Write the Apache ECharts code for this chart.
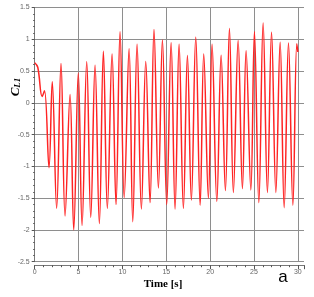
<!DOCTYPE html>
<html>
<head>
<meta charset="utf-8">
<script src="https://cdn.jsdelivr.net/npm/echarts@6/dist/echarts.min.js"></script>
<style>html,body{margin:0;padding:0;background:#fff;}#c{width:314px;height:297px;}</style>
</head>
<body>
<div id="c"></div>
<script>
var times = [0, 0.35, 0.85, 1.12, 1.63, 2.0, 2.5, 3.0, 3.46, 4.03, 4.45, 4.97, 5.4, 5.93, 6.39, 6.88, 7.37, 7.83, 8.28, 8.82, 9.27, 9.73, 10.2, 10.76, 11.18, 11.67, 12.16, 12.66, 13.15, 13.6, 14.1, 14.56, 15.05, 15.55, 16.0, 16.46, 16.95, 17.41, 17.86, 18.36, 18.86, 19.27, 19.8, 20.22, 20.76, 21.25, 21.74, 22.2, 22.65, 23.19, 23.68, 24.1, 24.64, 25.05, 25.55, 26.04, 26.53, 27.0, 27.49, 27.98, 28.44, 28.93, 29.43, 29.88, 30.0];
var cl1 = [0.63, 0.56, 0.1, 0.19, -1.02, 0.33, -1.66, 0.62, -1.78, 0.13, -2.0, 0.47, -1.93, 0.645, -1.8, 0.59, -1.9, 0.81, -1.66, 0.77, -1.6, 1.12, -1.49, 0.85, -1.87, 0.92, -1.67, 0.65, -1.57, 1.155, -1.34, 0.99, -1.6, 0.945, -1.67, 0.92, -1.66, 0.745, -1.53, 1.03, -1.61, 0.77, -1.5, 0.92, -1.55, 0.75, -1.38, 1.17, -1.41, 0.98, -1.35, 0.82, -1.37, 1.12, -1.57, 1.255, -1.41, 1.11, -1.41, 0.955, -1.65, 0.94, -1.61, 0.93, 0.8];
var xTicks = [0, 5, 10, 15, 20, 25, 30];
var yTicks = [-2.5, -2, -1.5, -1, -0.5, 0, 0.5, 1, 1.5];
var xTitle = 'Time [s]';
var panelLabel = 'a';

var data = times.map(function (t, i) { return [t, cl1[i]]; });
var gridCol = '#8e8e8e';
var chart = echarts.init(document.getElementById('c'));
chart.setOption({
  animation: false,
  backgroundColor: '#fff',
  grid: { left: 34.7, right: 10, top: 7.5, bottom: 35.3, containLabel: false },
  xAxis: {
    type: 'value', min: 0, max: 30.7, interval: 5, offset: 3.5,
    axisLine: { show: true, onZero: false, lineStyle: { color: '#777', width: 1 } },
    axisTick: { show: true, length: 4, lineStyle: { color: '#555' } },
    minorTick: { show: true, splitNumber: 5, length: 2, lineStyle: { color: '#555' } },
    splitLine: { show: false },
    axisLabel: {
      margin: 3, fontSize: 7, color: '#666', fontFamily: 'Liberation Sans',
      formatter: function (v) { return xTicks.indexOf(v) >= 0 ? String(v) : ''; }
    }
  },
  yAxis: {
    type: 'value', min: -2.5, max: 1.5, interval: 0.5,
    axisLine: { show: true, onZero: false, lineStyle: { color: '#777', width: 1 } },
    axisTick: { show: true, length: 3, lineStyle: { color: '#555' } },
    minorTick: { show: true, splitNumber: 5, length: 1.5, lineStyle: { color: '#555' } },
    splitLine: { show: true, lineStyle: { color: gridCol, width: 1 } },
    axisLabel: {
      margin: 5, fontSize: 7, color: '#666', fontFamily: 'Liberation Sans',
      formatter: function (v) { return yTicks.indexOf(v) >= 0 ? String(v) : ''; }
    }
  },
  series: [{
    type: 'line', data: data, showSymbol: false, smooth: 0.4, z: 3,
    lineStyle: { color: '#ff2424', width: 1.5 },
    markLine: {
      silent: true, symbol: 'none', z: 1,
      label: { show: false },
      lineStyle: { color: gridCol, width: 1, type: 'solid' },
      data: xTicks.slice(1).map(function (v) { return { xAxis: v }; })
    }
  }],
  graphic: [
    { type: 'text', x: 163, y: 284, style: { text: xTitle, fontFamily: 'Liberation Serif', fontWeight: 'bold', fontSize: 11, fill: '#000', textAlign: 'center', textVerticalAlign: 'middle' } },
    { type: 'text', x: 283, y: 277, style: { text: panelLabel, fontFamily: 'Liberation Sans', fontSize: 17, fill: '#000', textAlign: 'center', textVerticalAlign: 'middle' } },
    { type: 'text', x: 16, y: 87, rotation: Math.PI / 2, style: {
        text: '{c|C}{s|L1}', textAlign: 'center', textVerticalAlign: 'middle',
        rich: {
          c: { fontFamily: 'Liberation Serif', fontStyle: 'italic', fontWeight: 'bold', fontSize: 13, fill: '#000' },
          s: { fontFamily: 'Liberation Serif', fontStyle: 'italic', fontWeight: 'bold', fontSize: 9, fill: '#000', verticalAlign: 'bottom', padding: [4, 0, 0, 0] }
        }
    } }
  ]
});
</script>
</body>
</html>
